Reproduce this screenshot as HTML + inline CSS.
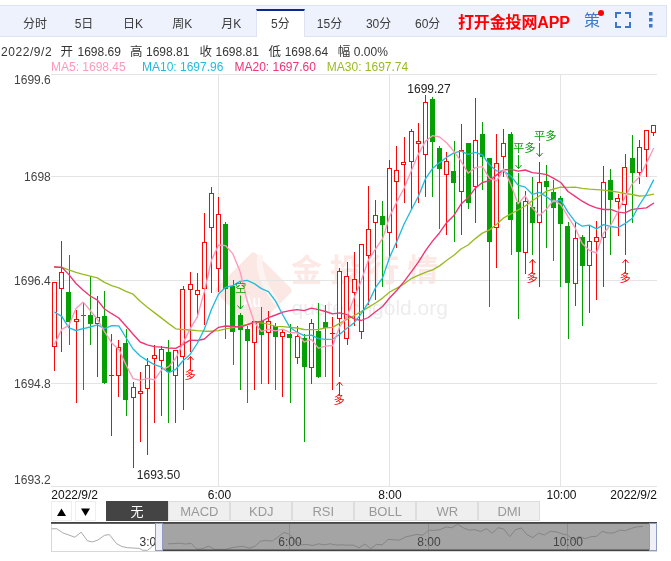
<!DOCTYPE html><html><head><meta charset="utf-8"><title>chart</title><style>
html,body{margin:0;padding:0;background:#fff}
body{width:671px;height:561px;position:relative;overflow:hidden;font-family:"Liberation Sans","Noto Sans CJK SC",sans-serif;}
#bar{position:absolute;left:-1px;top:5px;width:666px;height:30px;background:#eef2fc;border:1px solid #dde3f3;box-sizing:content-box}
.tab{position:absolute;top:7px;height:30px;line-height:34px;width:49px;text-align:center;font-size:12px;color:#3a3a3a;white-space:nowrap}
.tab.on{top:9px;height:28px;line-height:26px;background:#fff;border-top:2px solid #0a2a8c;box-sizing:border-box;border-left:1px solid #dde3f3;border-right:1px solid #dde3f3}
#app{position:absolute;left:458px;top:7px;height:31px;line-height:31px;font-size:16px;letter-spacing:-0.15px;font-weight:bold;color:#f00;white-space:nowrap}
#ce{position:absolute;left:584px;top:6px;height:31px;line-height:30px;font-size:16px;color:#3b78c9}
#dot{position:absolute;left:598px;top:10px;width:6px;height:6px;border-radius:3px;background:#f00}
#info{position:absolute;left:0px;top:43px;height:18px;line-height:18px;font-size:12px;color:#363636;white-space:nowrap}
#info span{position:absolute;top:0}
.ma{position:absolute;top:60px;height:14px;line-height:14px;font-size:12px;white-space:nowrap}
.bt{position:absolute;top:501px;height:20px;line-height:20px;width:62px;text-align:center;font-size:13px;color:#999;background:#efefef;border:1px solid #ddd;box-sizing:border-box;white-space:nowrap}
.bt.on{background:#444;color:#fff;border-color:#444}
.ar{position:absolute;top:501px;width:21px;height:20px;border:1px solid #eee;box-sizing:border-box}

</style></head><body><div id="wrap" style="position:absolute;left:0;top:0;width:671px;height:561px;will-change:transform">
<div id="bar"></div>
<div class="tab" style="left:10.4px">分时</div>
<div class="tab" style="left:59.5px">5日</div>
<div class="tab" style="left:108.6px">日K</div>
<div class="tab" style="left:157.7px">周K</div>
<div class="tab" style="left:206.8px">月K</div>
<div class="tab on" style="left:255.9px">5分</div>
<div class="tab" style="left:305.0px">15分</div>
<div class="tab" style="left:354.1px">30分</div>
<div class="tab" style="left:403.2px">60分</div>
<div id="app">打开金投网APP</div><div id="ce">策</div><div id="dot"></div>
<svg style="position:absolute;left:0;top:0" width="671" height="40"><g fill="none" stroke="#3b78c9" stroke-width="2"><path d="M616 18V13H621M625 13H630V18M630 22V27H625M621 27H616V22"/></g><g fill="#3b78c9"><rect x="649" y="12" width="3.5" height="3.5"/><rect x="649" y="18" width="3.5" height="3.5"/><rect x="649" y="24" width="3.5" height="3.5"/></g></svg>
<div id="info"><span style="left:1px;letter-spacing:0.55px">2022/9/2</span><span style="left:60.5px;font-size:12.5px">开</span><span style="left:77.5px">1698.69</span><span style="left:130px;font-size:12.5px">高</span><span style="left:146px">1698.81</span><span style="left:199.5px;font-size:12.5px">收</span><span style="left:215.5px">1698.81</span><span style="left:268.5px;font-size:12.5px">低</span><span style="left:284.7px">1698.64</span><span style="left:337.8px;font-size:12.5px">幅</span><span style="left:353.8px">0.00%</span></div>
<div class="ma" style="left:51px;color:#ff99bb">MA5: 1698.45</div>
<div class="ma" style="left:142px;color:#22bbdd">MA10: 1697.96</div>
<div class="ma" style="left:234.5px;color:#ee3377">MA20: 1697.60</div>
<div class="ma" style="left:326.8px;color:#99bb22">MA30: 1697.74</div>
<svg width="671" height="561" viewBox="0 0 671 561" style="position:absolute;left:0;top:0" font-family="'Liberation Sans', 'Noto Sans CJK SC', sans-serif">
<g id="wm">
<rect x="-27.2" y="-27.2" width="54.4" height="54.4" rx="4" transform="translate(253.5,290.5) rotate(45) scale(1.03)" fill="#fbe8e4"/>
<path d="M260 258 C 258 272, 266 288, 276 302" stroke="#fdf4f2" stroke-width="6" fill="none" stroke-linecap="round"/>
<text x="242.5" y="306.5" font-size="17" font-weight="bold" fill="#fff" textLength="18.5" lengthAdjust="spacingAndGlyphs">Au</text>
<text x="291" y="281" font-size="31" font-weight="bold" fill="#fce8e5" letter-spacing="7.8">金投行情</text>
<text x="291.5" y="315" font-size="21" fill="#ededed">quote.cngold.org</text>
</g>
<g stroke="#e4e4e4" stroke-width="1" shape-rendering="crispEdges">
<line x1="51" y1="74.5" x2="657" y2="74.5"/>
<line x1="51" y1="176.5" x2="657" y2="176.5"/>
<line x1="51" y1="280.5" x2="657" y2="280.5"/>
<line x1="51" y1="383.5" x2="657" y2="383.5"/>
<line x1="51" y1="486.5" x2="657" y2="486.5"/>
<line x1="218.5" y1="74" x2="218.5" y2="486"/>
<line x1="389.5" y1="74" x2="389.5" y2="486"/>
<line x1="560.5" y1="74" x2="560.5" y2="486"/>
</g>
<g shape-rendering="crispEdges">
<rect x="54" y="347" width="1" height="24" fill="#f90808"/>
<rect x="52.5" y="282.5" width="4" height="64" fill="#fff" stroke="#f90808" stroke-width="1"/>
<rect x="61" y="241" width="1" height="31" fill="#f90808"/>
<rect x="61" y="289" width="1" height="63" fill="#f90808"/>
<rect x="59.5" y="272.5" width="4" height="16" fill="#fff" stroke="#f90808" stroke-width="1"/>
<rect x="69" y="255" width="1" height="90" fill="#04a004"/>
<rect x="66" y="292" width="5" height="30" fill="#04a004"/>
<rect x="76" y="310" width="1" height="9" fill="#f90808"/>
<rect x="76" y="322" width="1" height="81" fill="#f90808"/>
<rect x="74.5" y="319.5" width="4" height="2" fill="#fff" stroke="#f90808" stroke-width="1"/>
<rect x="83" y="302" width="1" height="88" fill="#04a004"/>
<rect x="81" y="315" width="5" height="1" fill="#04a004"/>
<rect x="90" y="276" width="1" height="69" fill="#04a004"/>
<rect x="88" y="315" width="5" height="9" fill="#04a004"/>
<rect x="97" y="296" width="1" height="21" fill="#f90808"/>
<rect x="97" y="324" width="1" height="53" fill="#f90808"/>
<rect x="95.5" y="317.5" width="4" height="6" fill="#fff" stroke="#f90808" stroke-width="1"/>
<rect x="104" y="291" width="1" height="93" fill="#04a004"/>
<rect x="102" y="316" width="5" height="67" fill="#04a004"/>
<rect x="111" y="334" width="1" height="41" fill="#f90808"/>
<rect x="111" y="376" width="1" height="60" fill="#f90808"/>
<rect x="109" y="375" width="5" height="1" fill="#f90808"/>
<rect x="118" y="340" width="1" height="7" fill="#f90808"/>
<rect x="118" y="376" width="1" height="21" fill="#f90808"/>
<rect x="116.5" y="347.5" width="4" height="28" fill="#fff" stroke="#f90808" stroke-width="1"/>
<rect x="126" y="329" width="1" height="87" fill="#04a004"/>
<rect x="123" y="343" width="5" height="57" fill="#04a004"/>
<rect x="133" y="382" width="1" height="5" fill="#f90808"/>
<rect x="133" y="398" width="1" height="70" fill="#f90808"/>
<rect x="131.5" y="387.5" width="4" height="10" fill="#fff" stroke="#f90808" stroke-width="1"/>
<rect x="140" y="372" width="1" height="19" fill="#f90808"/>
<rect x="140" y="394" width="1" height="48" fill="#f90808"/>
<rect x="138.5" y="391.5" width="4" height="2" fill="#fff" stroke="#f90808" stroke-width="1"/>
<rect x="147" y="358" width="1" height="7" fill="#f90808"/>
<rect x="147" y="389" width="1" height="66" fill="#f90808"/>
<rect x="145.5" y="365.5" width="4" height="23" fill="#fff" stroke="#f90808" stroke-width="1"/>
<rect x="154" y="345" width="1" height="10" fill="#f90808"/>
<rect x="154" y="359" width="1" height="64" fill="#f90808"/>
<rect x="152.5" y="355.5" width="4" height="3" fill="#fff" stroke="#f90808" stroke-width="1"/>
<rect x="161" y="346" width="1" height="3" fill="#f90808"/>
<rect x="161" y="361" width="1" height="55" fill="#f90808"/>
<rect x="159.5" y="349.5" width="4" height="11" fill="#fff" stroke="#f90808" stroke-width="1"/>
<rect x="168" y="340" width="1" height="83" fill="#04a004"/>
<rect x="166" y="352" width="5" height="20" fill="#04a004"/>
<rect x="175" y="376" width="1" height="47" fill="#f90808"/>
<rect x="173.5" y="350.5" width="4" height="25" fill="#fff" stroke="#f90808" stroke-width="1"/>
<rect x="183" y="286" width="1" height="3" fill="#f90808"/>
<rect x="183" y="357" width="1" height="53" fill="#f90808"/>
<rect x="180.5" y="289.5" width="4" height="67" fill="#fff" stroke="#f90808" stroke-width="1"/>
<rect x="190" y="272" width="1" height="12" fill="#f90808"/>
<rect x="190" y="290" width="1" height="62" fill="#f90808"/>
<rect x="188.5" y="284.5" width="4" height="5" fill="#fff" stroke="#f90808" stroke-width="1"/>
<rect x="197" y="273" width="1" height="17" fill="#f90808"/>
<rect x="197" y="295" width="1" height="23" fill="#f90808"/>
<rect x="195.5" y="290.5" width="4" height="4" fill="#fff" stroke="#f90808" stroke-width="1"/>
<rect x="204" y="213" width="1" height="29" fill="#f90808"/>
<rect x="204" y="289" width="1" height="36" fill="#f90808"/>
<rect x="202.5" y="242.5" width="4" height="46" fill="#fff" stroke="#f90808" stroke-width="1"/>
<rect x="211" y="187" width="1" height="6" fill="#f90808"/>
<rect x="211" y="228" width="1" height="65" fill="#f90808"/>
<rect x="209.5" y="193.5" width="4" height="34" fill="#fff" stroke="#f90808" stroke-width="1"/>
<rect x="218" y="197" width="1" height="17" fill="#f90808"/>
<rect x="218" y="269" width="1" height="23" fill="#f90808"/>
<rect x="216.5" y="214.5" width="4" height="54" fill="#fff" stroke="#f90808" stroke-width="1"/>
<rect x="225" y="222" width="1" height="117" fill="#04a004"/>
<rect x="223" y="224" width="5" height="65" fill="#04a004"/>
<rect x="233" y="280" width="1" height="85" fill="#04a004"/>
<rect x="230" y="286" width="5" height="46" fill="#04a004"/>
<rect x="240" y="313" width="1" height="77" fill="#04a004"/>
<rect x="238" y="315" width="5" height="15" fill="#04a004"/>
<rect x="247" y="326" width="1" height="77" fill="#04a004"/>
<rect x="245" y="329" width="5" height="12" fill="#04a004"/>
<rect x="254" y="343" width="1" height="47" fill="#f90808"/>
<rect x="252.5" y="321.5" width="4" height="21" fill="#fff" stroke="#f90808" stroke-width="1"/>
<rect x="261" y="307" width="1" height="77" fill="#04a004"/>
<rect x="259" y="321" width="5" height="14" fill="#04a004"/>
<rect x="268" y="311" width="1" height="10" fill="#f90808"/>
<rect x="268" y="333" width="1" height="51" fill="#f90808"/>
<rect x="266.5" y="321.5" width="4" height="11" fill="#fff" stroke="#f90808" stroke-width="1"/>
<rect x="275" y="323" width="1" height="67" fill="#04a004"/>
<rect x="273" y="326" width="5" height="11" fill="#04a004"/>
<rect x="282" y="330" width="1" height="2" fill="#f90808"/>
<rect x="282" y="337" width="1" height="60" fill="#f90808"/>
<rect x="280.5" y="332.5" width="4" height="4" fill="#fff" stroke="#f90808" stroke-width="1"/>
<rect x="290" y="324" width="1" height="79" fill="#04a004"/>
<rect x="287" y="334" width="5" height="4" fill="#04a004"/>
<rect x="297" y="326" width="1" height="10" fill="#f90808"/>
<rect x="297" y="358" width="1" height="6" fill="#f90808"/>
<rect x="295.5" y="336.5" width="4" height="21" fill="#fff" stroke="#f90808" stroke-width="1"/>
<rect x="304" y="334" width="1" height="108" fill="#04a004"/>
<rect x="302" y="338" width="5" height="29" fill="#04a004"/>
<rect x="311" y="319" width="1" height="4" fill="#f90808"/>
<rect x="311" y="368" width="1" height="16" fill="#f90808"/>
<rect x="309.5" y="323.5" width="4" height="44" fill="#fff" stroke="#f90808" stroke-width="1"/>
<rect x="318" y="303" width="1" height="75" fill="#04a004"/>
<rect x="316" y="331" width="5" height="46" fill="#04a004"/>
<rect x="325" y="305" width="1" height="72" fill="#04a004"/>
<rect x="323" y="322" width="5" height="6" fill="#04a004"/>
<rect x="332" y="317" width="1" height="16" fill="#f90808"/>
<rect x="332" y="334" width="1" height="56" fill="#f90808"/>
<rect x="330" y="333" width="5" height="1" fill="#f90808"/>
<rect x="339" y="268" width="1" height="3" fill="#f90808"/>
<rect x="339" y="319" width="1" height="58" fill="#f90808"/>
<rect x="337.5" y="271.5" width="4" height="47" fill="#fff" stroke="#f90808" stroke-width="1"/>
<rect x="347" y="262" width="1" height="14" fill="#f90808"/>
<rect x="347" y="339" width="1" height="6" fill="#f90808"/>
<rect x="344.5" y="276.5" width="4" height="62" fill="#fff" stroke="#f90808" stroke-width="1"/>
<rect x="354" y="252" width="1" height="27" fill="#f90808"/>
<rect x="354" y="293" width="1" height="33" fill="#f90808"/>
<rect x="352.5" y="279.5" width="4" height="13" fill="#fff" stroke="#f90808" stroke-width="1"/>
<rect x="361" y="332" width="1" height="7" fill="#f90808"/>
<rect x="359.5" y="244.5" width="4" height="87" fill="#fff" stroke="#f90808" stroke-width="1"/>
<rect x="368" y="186" width="1" height="43" fill="#f90808"/>
<rect x="368" y="256" width="1" height="49" fill="#f90808"/>
<rect x="366.5" y="229.5" width="4" height="26" fill="#fff" stroke="#f90808" stroke-width="1"/>
<rect x="375" y="200" width="1" height="15" fill="#f90808"/>
<rect x="375" y="223" width="1" height="77" fill="#f90808"/>
<rect x="373.5" y="215.5" width="4" height="7" fill="#fff" stroke="#f90808" stroke-width="1"/>
<rect x="382" y="201" width="1" height="86" fill="#04a004"/>
<rect x="380" y="216" width="5" height="9" fill="#04a004"/>
<rect x="389" y="160" width="1" height="8" fill="#f90808"/>
<rect x="389" y="233" width="1" height="24" fill="#f90808"/>
<rect x="387.5" y="168.5" width="4" height="64" fill="#fff" stroke="#f90808" stroke-width="1"/>
<rect x="396" y="146" width="1" height="24" fill="#f90808"/>
<rect x="396" y="182" width="1" height="66" fill="#f90808"/>
<rect x="394.5" y="170.5" width="4" height="11" fill="#fff" stroke="#f90808" stroke-width="1"/>
<rect x="404" y="137" width="1" height="25" fill="#f90808"/>
<rect x="404" y="165" width="1" height="38" fill="#f90808"/>
<rect x="401.5" y="162.5" width="4" height="2" fill="#fff" stroke="#f90808" stroke-width="1"/>
<rect x="411" y="129" width="1" height="2" fill="#f90808"/>
<rect x="411" y="162" width="1" height="47" fill="#f90808"/>
<rect x="409.5" y="131.5" width="4" height="30" fill="#fff" stroke="#f90808" stroke-width="1"/>
<rect x="418" y="123" width="1" height="18" fill="#f90808"/>
<rect x="418" y="144" width="1" height="59" fill="#f90808"/>
<rect x="416.5" y="141.5" width="4" height="2" fill="#fff" stroke="#f90808" stroke-width="1"/>
<rect x="425" y="95" width="1" height="7" fill="#f90808"/>
<rect x="425" y="155" width="1" height="42" fill="#f90808"/>
<rect x="423.5" y="102.5" width="4" height="52" fill="#fff" stroke="#f90808" stroke-width="1"/>
<rect x="432" y="97" width="1" height="100" fill="#04a004"/>
<rect x="430" y="99" width="5" height="43" fill="#04a004"/>
<rect x="439" y="146" width="1" height="83" fill="#04a004"/>
<rect x="437" y="148" width="5" height="21" fill="#04a004"/>
<rect x="446" y="152" width="1" height="9" fill="#f90808"/>
<rect x="446" y="175" width="1" height="60" fill="#f90808"/>
<rect x="444.5" y="161.5" width="4" height="13" fill="#fff" stroke="#f90808" stroke-width="1"/>
<rect x="454" y="141" width="1" height="101" fill="#04a004"/>
<rect x="451" y="171" width="5" height="12" fill="#04a004"/>
<rect x="461" y="124" width="1" height="26" fill="#f90808"/>
<rect x="461" y="192" width="1" height="43" fill="#f90808"/>
<rect x="459.5" y="150.5" width="4" height="41" fill="#fff" stroke="#f90808" stroke-width="1"/>
<rect x="468" y="143" width="1" height="66" fill="#04a004"/>
<rect x="466" y="143" width="5" height="60" fill="#04a004"/>
<rect x="475" y="98" width="1" height="42" fill="#f90808"/>
<rect x="475" y="187" width="1" height="36" fill="#f90808"/>
<rect x="473.5" y="140.5" width="4" height="46" fill="#fff" stroke="#f90808" stroke-width="1"/>
<rect x="482" y="122" width="1" height="68" fill="#04a004"/>
<rect x="480" y="134" width="5" height="23" fill="#04a004"/>
<rect x="489" y="158" width="1" height="149" fill="#04a004"/>
<rect x="487" y="158" width="5" height="84" fill="#04a004"/>
<rect x="496" y="134" width="1" height="29" fill="#f90808"/>
<rect x="496" y="228" width="1" height="40" fill="#f90808"/>
<rect x="494.5" y="163.5" width="4" height="64" fill="#fff" stroke="#f90808" stroke-width="1"/>
<rect x="503" y="129" width="1" height="14" fill="#f90808"/>
<rect x="503" y="157" width="1" height="20" fill="#f90808"/>
<rect x="501.5" y="143.5" width="4" height="13" fill="#fff" stroke="#f90808" stroke-width="1"/>
<rect x="511" y="132" width="1" height="123" fill="#04a004"/>
<rect x="508" y="134" width="5" height="86" fill="#04a004"/>
<rect x="518" y="173" width="1" height="146" fill="#04a004"/>
<rect x="516" y="202" width="5" height="50" fill="#04a004"/>
<rect x="525" y="191" width="1" height="10" fill="#f90808"/>
<rect x="525" y="253" width="1" height="21" fill="#f90808"/>
<rect x="523.5" y="201.5" width="4" height="51" fill="#fff" stroke="#f90808" stroke-width="1"/>
<rect x="532" y="177" width="1" height="78" fill="#04a004"/>
<rect x="530" y="207" width="5" height="16" fill="#04a004"/>
<rect x="539" y="162" width="1" height="20" fill="#f90808"/>
<rect x="539" y="223" width="1" height="64" fill="#f90808"/>
<rect x="537.5" y="182.5" width="4" height="40" fill="#fff" stroke="#f90808" stroke-width="1"/>
<rect x="546" y="165" width="1" height="83" fill="#04a004"/>
<rect x="544" y="181" width="5" height="6" fill="#04a004"/>
<rect x="553" y="180" width="1" height="81" fill="#04a004"/>
<rect x="551" y="192" width="5" height="16" fill="#04a004"/>
<rect x="560" y="196" width="1" height="91" fill="#04a004"/>
<rect x="558" y="198" width="5" height="26" fill="#04a004"/>
<rect x="568" y="222" width="1" height="117" fill="#04a004"/>
<rect x="565" y="226" width="5" height="57" fill="#04a004"/>
<rect x="575" y="222" width="1" height="16" fill="#f90808"/>
<rect x="575" y="284" width="1" height="22" fill="#f90808"/>
<rect x="573.5" y="238.5" width="4" height="45" fill="#fff" stroke="#f90808" stroke-width="1"/>
<rect x="582" y="235" width="1" height="91" fill="#04a004"/>
<rect x="580" y="237" width="5" height="29" fill="#04a004"/>
<rect x="589" y="226" width="1" height="15" fill="#f90808"/>
<rect x="589" y="266" width="1" height="47" fill="#f90808"/>
<rect x="587.5" y="241.5" width="4" height="24" fill="#fff" stroke="#f90808" stroke-width="1"/>
<rect x="596" y="221" width="1" height="16" fill="#f90808"/>
<rect x="596" y="242" width="1" height="58" fill="#f90808"/>
<rect x="594.5" y="237.5" width="4" height="4" fill="#fff" stroke="#f90808" stroke-width="1"/>
<rect x="603" y="166" width="1" height="16" fill="#f90808"/>
<rect x="603" y="238" width="1" height="49" fill="#f90808"/>
<rect x="601.5" y="182.5" width="4" height="55" fill="#fff" stroke="#f90808" stroke-width="1"/>
<rect x="610" y="169" width="1" height="86" fill="#04a004"/>
<rect x="608" y="180" width="5" height="20" fill="#04a004"/>
<rect x="618" y="194" width="1" height="4" fill="#f90808"/>
<rect x="618" y="202" width="1" height="34" fill="#f90808"/>
<rect x="615.5" y="198.5" width="4" height="3" fill="#fff" stroke="#f90808" stroke-width="1"/>
<rect x="625" y="154" width="1" height="13" fill="#f90808"/>
<rect x="625" y="205" width="1" height="50" fill="#f90808"/>
<rect x="622.5" y="167.5" width="4" height="37" fill="#fff" stroke="#f90808" stroke-width="1"/>
<rect x="632" y="135" width="1" height="88" fill="#04a004"/>
<rect x="630" y="158" width="5" height="15" fill="#04a004"/>
<rect x="639" y="140" width="1" height="7" fill="#f90808"/>
<rect x="639" y="173" width="1" height="11" fill="#f90808"/>
<rect x="637.5" y="147.5" width="4" height="25" fill="#fff" stroke="#f90808" stroke-width="1"/>
<rect x="646" y="150" width="1" height="27" fill="#f90808"/>
<rect x="644.5" y="130.5" width="4" height="19" fill="#fff" stroke="#f90808" stroke-width="1"/>
<rect x="653" y="133" width="1" height="3" fill="#f90808"/>
<rect x="651.5" y="125.5" width="4" height="7" fill="#fff" stroke="#f90808" stroke-width="1"/>
</g>
<polyline points="54.6,267 61.8,267.3 68.9,269.9 76,272.3 83.2,274.4 90.3,276.2 97.4,277.9 104.5,282.4 111.7,285.6 118.8,287.8 125.9,291.3 133.1,294.2 140.2,301.3 147.3,307.3 154.4,312.6 161.6,318.1 168.7,323.6 175.8,328.8 183,329.5 190.1,330 197.2,330.7 204.4,331.2 211.5,331.2 218.6,330.7 225.7,328.8 232.9,327.6 240,326.4 247.1,324.5 254.3,322.4 261.4,322.9 268.5,324.2 275.6,326.4 282.8,326.7 289.9,327.3 297,328 304.2,329.5 311.3,329.7 318.4,329.5 325.6,327.9 332.7,327.4 339.8,323.1 346.9,319.4 354.1,315.7 361.2,311.7 368.3,307.4 375.5,303 382.6,298.1 389.7,292 396.9,288.1 404,284 411.1,278.7 418.2,275.3 425.4,272.3 432.5,269.9 439.6,265.9 446.8,260.2 453.9,255.3 461,249 468.1,245 475.3,238.6 482.4,233.1 489.5,229.9 496.7,224.2 503.8,217.8 510.9,213.9 518.1,210 525.2,206 532.3,200.8 539.4,196 546.6,191.1 553.7,189 560.8,187.2 568,187.3 575.1,187.1 582.2,188.3 589.3,189.2 596.5,189.6 603.6,190.1 610.7,191 617.9,192.2 625,193.5 632.1,194.5 639.3,196 646.4,195.6 653.5,194.2" fill="none" stroke="#99bb22" stroke-width="1.35" stroke-linejoin="round" stroke-linecap="round"/>
<polyline points="54.6,267 61.8,267.3 68.9,274.6 76,283.5 83.2,290.3 90.3,296 97.4,300.2 104.5,309 111.7,313.7 118.8,318 125.9,326 133.1,334.3 140.2,342 147.3,344.8 154.4,346.7 161.6,347.2 168.7,348 175.8,348.4 183,344.3 190.1,340.1 197.2,340.5 204.4,339 211.5,332.6 218.6,327.3 225.7,326 232.9,326.4 240,327 247.1,324.9 254.3,322.1 261.4,321.5 268.5,317.6 275.6,315 282.8,312.1 289.9,310.7 297,309.7 304.2,310.6 311.3,308.2 318.4,309.6 325.6,311.5 332.7,313.9 339.8,312.9 346.9,314.6 354.1,318.9 361.2,320.5 368.3,317.5 375.5,311.7 382.6,306.5 389.7,297.8 396.9,290.3 404,281.7 411.1,272.2 418.2,262.4 425.4,250.9 432.5,241.1 439.6,232.7 446.8,222.4 453.9,215.4 461,204.1 468.1,197.8 475.3,188.2 482.4,182.5 489.5,180.7 496.7,174.9 503.8,169.8 510.9,169.4 518.1,171.2 525.2,170 532.3,172.7 539.4,173.3 546.6,174.6 553.7,178.4 560.8,182.5 568,191.5 575.1,196.4 582.2,201.2 589.3,205.2 596.5,207.9 603.6,209.5 610.7,209.4 617.9,212.2 625,212.8 632.1,209.3 639.3,208.6 646.4,207.9 653.5,203.2" fill="none" stroke="#ee3377" stroke-width="1.35" stroke-linejoin="round" stroke-linecap="round"/>
<polyline points="54.6,312.2 61.8,316.4 68.9,327.9 76,330.5 83.2,328.6 90.3,327 97.4,324.9 104.5,328.6 111.7,325.6 118.8,325.8 125.9,337.5 133.1,349 140.2,356 147.3,360.6 154.4,364.6 161.6,367.2 168.7,372.6 175.8,369.3 183,360.7 190.1,354.4 197.2,343.5 204.4,329 211.5,309.2 218.6,294 225.7,287.3 232.9,285.6 240,281.4 247.1,280.4 254.3,283.6 261.4,288.6 268.5,291.6 275.6,301.1 282.8,315 289.9,327.3 297,332.2 304.2,335.7 311.3,335.1 318.4,338.7 325.6,339.4 332.7,339.2 339.8,334.2 346.9,328.2 354.1,322.9 361.2,313.6 368.3,302.9 375.5,287.7 382.6,277.9 389.7,257 396.9,241.3 404,224.2 411.1,210.2 418.2,196.7 425.4,178.9 432.5,168.6 439.6,162.6 446.8,157.2 453.9,152.9 461,151.2 468.1,154.4 475.3,152.3 482.4,154.8 489.5,164.8 496.7,170.9 503.8,171.1 510.9,176.2 518.1,185.2 525.2,187.1 532.3,194.3 539.4,192.3 546.6,196.9 553.7,202 560.8,200.2 568,212.1 575.1,221.7 582.2,226.2 589.3,225.2 596.5,228.8 603.6,224.7 610.7,226.5 617.9,227.6 625,223.6 632.1,218.5 639.3,205 646.4,194.2 653.5,180.1" fill="none" stroke="#22bbdd" stroke-width="1.35" stroke-linejoin="round" stroke-linecap="round"/>
<polyline points="54.6,344 61.8,329.4 68.9,325.3 76,308.4 83.2,302.1 90.3,310.5 97.4,319.4 104.5,331.7 111.7,342.9 118.8,349.4 125.9,364.5 133.1,378.6 140.2,380.3 147.3,378.3 154.4,379.9 161.6,369.8 168.7,366.6 175.8,358.3 183,343.1 190.1,328.9 197.2,317.2 204.4,291.4 211.5,260.1 218.6,245 225.7,245.7 232.9,253.9 240,271.3 247.1,300.8 254.3,322.2 261.4,331.4 268.5,329.4 275.6,330.8 282.8,329.1 289.9,332.5 297,332.9 304.2,342 311.3,339.3 318.4,348.2 325.6,346.2 332.7,345.5 339.8,326.4 346.9,317.1 354.1,297.7 361.2,280.9 368.3,260.2 375.5,249 382.6,238.7 389.7,216.4 396.9,201.6 404,188.2 411.1,171.3 418.2,154.6 425.4,141.4 432.5,135.7 439.6,137 446.8,143 453.9,151.3 461,161 468.1,173.2 475.3,167.6 482.4,166.6 489.5,178.4 496.7,180.9 503.8,169 510.9,184.8 518.1,203.8 525.2,195.8 532.3,207.7 539.4,215.6 546.6,209 553.7,200.1 560.8,204.6 568,216.6 575.1,227.7 582.2,243.5 589.3,250.3 596.5,253 603.6,232.9 610.7,225.2 617.9,211.7 625,197 632.1,184 639.3,177 646.4,163.1 653.5,148.5" fill="none" stroke="#ff99bb" stroke-width="1.35" stroke-linejoin="round" stroke-linecap="round"/>
<g stroke="#f90808" stroke-width="1" fill="none"><path d="M190.5 356.5V370.0M187.5 360.0L190.5 356.5L193.5 360.0"/></g>
<text x="184.4" y="378.5" font-size="11.3" fill="#f90808">多</text>
<g stroke="#f90808" stroke-width="1" fill="none"><path d="M339.5 382V395.5M336.5 385.5L339.5 382L342.5 385.5"/></g>
<text x="333.4" y="404" font-size="11.3" fill="#f90808">多</text>
<g stroke="#f90808" stroke-width="1" fill="none"><path d="M532.5 259.5V273.0M529.5 263.0L532.5 259.5L535.5 263.0"/></g>
<text x="526.4" y="281.5" font-size="11.3" fill="#f90808">多</text>
<g stroke="#f90808" stroke-width="1" fill="none"><path d="M625.5 259.5V273.0M622.5 263.0L625.5 259.5L628.5 263.0"/></g>
<text x="619.4" y="281.5" font-size="11.3" fill="#f90808">多</text>
<g stroke="#04a004" stroke-width="1" fill="none"><path d="M240.5 309V295.5M237.5 305.5L240.5 309L243.5 305.5"/></g>
<text x="234.9" y="292.2" font-size="11.3" fill="#04a004">空</text>
<g stroke="#04a004" stroke-width="1" fill="none"><path d="M518.5 168.5V155.0M515.5 165.0L518.5 168.5L521.5 165.0"/></g>
<text x="512.9" y="151.7" font-size="11.3" fill="#04a004">平多</text>
<g stroke="#04a004" stroke-width="1" fill="none"><path d="M539.5 156.5V143.0M536.5 153.0L539.5 156.5L542.5 153.0"/></g>
<text x="533.9" y="139.7" font-size="11.3" fill="#04a004">平多</text>
<g font-size="12" fill="#222">
<text x="429" y="93.2" text-anchor="middle">1699.27</text>
<text x="158.5" y="478.8" text-anchor="middle">1693.50</text>
</g>
<g font-size="12" fill="#444" text-anchor="end">
<text x="50.8" y="84.4">1699.6</text>
<text x="50.8" y="181">1698</text>
<text x="50.8" y="285">1696.4</text>
<text x="50.8" y="388">1694.8</text>
<text x="50.8" y="484.4">1693.2</text>
</g>
<g font-size="12" fill="#111">
<text x="51.3" y="499">2022/9/2</text>
<text x="219.5" y="499" text-anchor="middle">6:00</text>
<text x="390" y="499" text-anchor="middle">8:00</text>
<text x="561.5" y="499" text-anchor="middle">10:00</text>
<text x="657" y="499" text-anchor="end">2022/9/2</text>
</g>
<g id="slider">
<rect x="51.5" y="523.5" width="605" height="28" fill="#fff" stroke="#d8d8d8" stroke-width="1"/>
<polyline points="51.7,528.8 56.9,528.8 62.9,532.9 74.8,537.2 81.2,532.2 87.4,540.8 92.7,541.9 97.9,540 104.6,535.3 109.4,534.6 116.5,543.6 121.8,546.5 127.3,547.7 139.2,548.4 142.8,550.3 147.5,550.3 151.6,547.2 156.5,540.3 156.5,540.3 162.3,539.4 168.1,543.8 173.9,543.6 179.7,543.2 185.4,544 191.2,543.4 197,549.3 202.8,548.6 208.6,546.1 214.4,549.3 220.2,549.3 226,549.3 231.8,547.7 237.6,546.8 243.3,546.3 249.1,548.2 254.9,546.3 260.7,541 266.5,540.5 272.3,541.1 278.1,536.8 283.9,532.4 289.7,534.3 295.5,540.9 301.2,544.7 307,544.5 312.8,545.5 318.6,543.8 324.4,544.9 330.2,543.8 336,545.1 341.8,544.8 347.6,545.2 353.4,545.1 359.1,547.8 364.9,544 370.7,548.7 376.5,544.4 382.3,544.8 388.1,539.4 393.9,539.8 399.7,540.1 405.5,537 411.3,535.6 417.1,534.4 422.8,535.2 428.6,530.2 434.4,530.4 440.2,529.6 446,526.9 451.8,527.8 457.6,524.3 463.4,527.8 469.2,530.2 474.9,529.6 480.7,531.5 486.5,528.6 492.3,533.3 498.1,527.7 503.9,529.1 509.7,536.7 515.5,529.7 521.3,528 527.1,534.8 532.9,537.6 538.6,533.1 544.4,535 550.2,531.4 556,531.8 561.8,533.7 567.6,535.1 573.4,540.3 579.2,536.4 585,538.8 590.8,536.7 596.5,536.3 602.3,531.4 608.1,533 613.9,532.9 619.7,530.1 625.5,530.6 631.3,528.3 637.1,526.8 642.9,526.4" fill="none" stroke="#aaa" stroke-width="1"/>
<text x="139.5" y="546" font-size="12" fill="#333">3:00</text>
<rect x="163" y="523" width="486" height="28" fill="#a4a4a4"/>
<polyline points="168.1,543.8 173.9,543.6 179.7,543.2 185.4,544 191.2,543.4 197,549.3 202.8,548.6 208.6,546.1 214.4,549.3 220.2,549.3 226,549.3 231.8,547.7 237.6,546.8 243.3,546.3 249.1,548.2 254.9,546.3 260.7,541 266.5,540.5 272.3,541.1 278.1,536.8 283.9,532.4 289.7,534.3 295.5,540.9 301.2,544.7 307,544.5 312.8,545.5 318.6,543.8 324.4,544.9 330.2,543.8 336,545.1 341.8,544.8 347.6,545.2 353.4,545.1 359.1,547.8 364.9,544 370.7,548.7 376.5,544.4 382.3,544.8 388.1,539.4 393.9,539.8 399.7,540.1 405.5,537 411.3,535.6 417.1,534.4 422.8,535.2 428.6,530.2 434.4,530.4 440.2,529.6 446,526.9 451.8,527.8 457.6,524.3 463.4,527.8 469.2,530.2 474.9,529.6 480.7,531.5 486.5,528.6 492.3,533.3 498.1,527.7 503.9,529.1 509.7,536.7 515.5,529.7 521.3,528 527.1,534.8 532.9,537.6 538.6,533.1 544.4,535 550.2,531.4 556,531.8 561.8,533.7 567.6,535.1 573.4,540.3 579.2,536.4 585,538.8 590.8,536.7 596.5,536.3 602.3,531.4 608.1,533 613.9,532.9 619.7,530.1 625.5,530.6 631.3,528.3 637.1,526.8 642.9,526.4" fill="none" stroke="#858585" stroke-width="1"/>
<g stroke="#8f8f8f" stroke-width="1" shape-rendering="crispEdges"><line x1="289.5" y1="524" x2="289.5" y2="550"/><line x1="428.5" y1="524" x2="428.5" y2="550"/><line x1="567.5" y1="524" x2="567.5" y2="550"/></g>
<g font-size="12" fill="#444" text-anchor="middle"><text x="290" y="546">6:00</text><text x="429" y="546">8:00</text><text x="568" y="546">10:00</text></g>
<rect x="51" y="522" width="606" height="1.8" fill="#444"/>
<rect x="163" y="549.5" width="486" height="1.5" fill="#444"/>
<rect x="155.5" y="523.5" width="7" height="27" fill="#eef0f6" stroke="#8f9bc0" stroke-width="1"/>
<rect x="649.5" y="523.5" width="7" height="27" fill="#eef0f6" stroke="#8f9bc0" stroke-width="1"/>
</g>
</svg>
<div class="ar" style="left:51px"></div><div class="ar" style="left:75px"></div>
<svg style="position:absolute;left:0;top:500px" width="120" height="24"><polygon points="57,16 66,16 61.5,8.5" fill="#000"/><polygon points="81,8.5 90,8.5 85.5,16" fill="#000"/></svg>
<div class="bt on" style="left:106.0px">无</div>
<div class="bt" style="left:168.3px">MACD</div>
<div class="bt" style="left:230.3px">KDJ</div>
<div class="bt" style="left:292.3px">RSI</div>
<div class="bt" style="left:354.3px">BOLL</div>
<div class="bt" style="left:416.3px">WR</div>
<div class="bt" style="left:478.3px">DMI</div>
</div></body></html>
